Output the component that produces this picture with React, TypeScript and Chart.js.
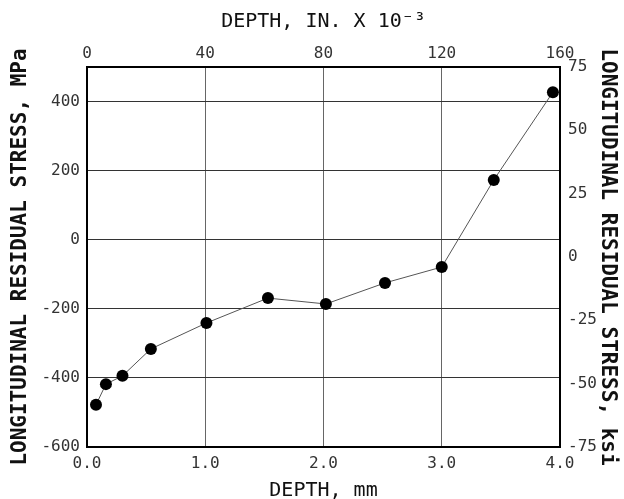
import React, { useEffect, useRef } from "react";
import { Chart, registerables } from "chart.js";

Chart.register(...registerables);

// Data
const depthMm = [0.076, 0.16, 0.3, 0.54, 1.01, 1.53, 2.02, 2.52, 3.0, 3.44, 3.94];
const stressMPa = [-478, -418, -394, -316, -241, -169, -186, -125, -79, 173, 427];

const bottomTicks = [0, 1, 2, 3, 4];
const topTickLabels = ["0", "40", "80", "120", "160"];
const leftTicks = [-600, -400, -200, 0, 200, 400];
const rightTicks = [-75, -50, -25, 0, 25, 50, 75];

const MONO = "'DejaVu Sans Mono', monospace";

export default function App() {
  const ref = useRef<HTMLCanvasElement | null>(null);

  useEffect(() => {
    if (!ref.current) return;
    const points = depthMm.map((x, i) => ({ x, y: stressMPa[i] }));
    const tickFont = { family: MONO, size: 16 };
    const titleFont = { family: MONO, size: 20, lineHeight: 1 };
    const sideTitleFont = { family: MONO, size: 21, lineHeight: 1, weight: "bold" };
    const border = { display: true, color: "#000", width: 2 };

    const chart = new Chart(ref.current, {
      type: "line",
      data: {
        datasets: [
          {
            data: points,
            borderColor: "#555",
            borderWidth: 1,
            pointRadius: 6,
            pointBackgroundColor: "#000",
            pointBorderColor: "#000",
            pointBorderWidth: 0,
            xAxisID: "x",
            yAxisID: "y",
            tension: 0,
          },
        ],
      },
      options: {
        responsive: false,
        animation: false,
        layout: { padding: 0 },
        plugins: { legend: { display: false }, tooltip: { enabled: false } },
        scales: {
          x: {
            type: "linear",
            position: "bottom",
            min: 0,
            max: 4,
            afterBuildTicks: (s: any) => {
              s.ticks = bottomTicks.map((v) => ({ value: v }));
            },
            afterFit: (s: any) => {
              s.height = 52;
            },
            ticks: {
              font: tickFont,
              color: "#333",
              padding: 7,
              maxRotation: 0,
              callback: (v: any) => Number(v).toFixed(1),
            },
            grid: {
              drawTicks: false,
              color: (c: any) =>
                c.tick && (c.tick.value === 0 || c.tick.value === 4) ? "rgba(0,0,0,0)" : "#666",
              lineWidth: 1,
            },
            border,
            title: {
              display: true,
              text: "DEPTH, mm",
              font: titleFont,
              color: "#111",
              padding: { top: 0, bottom: -2 },
            },
          },
          x2: {
            type: "linear",
            position: "top",
            min: 0,
            max: 4,
            afterBuildTicks: (s: any) => {
              s.ticks = bottomTicks.map((v) => ({ value: v }));
            },
            afterFit: (s: any) => {
              s.height = 67;
            },
            ticks: {
              font: tickFont,
              color: "#333",
              padding: 4,
              maxRotation: 0,
              callback: (_v: any, i: number) => topTickLabels[i],
            },
            grid: { display: false, drawTicks: false },
            border,
            title: {
              display: true,
              text: "DEPTH, IN. X 10\u207B\u00B3",
              font: titleFont,
              color: "#111",
              padding: { top: 12, bottom: 0 },
            },
          },
          y: {
            type: "linear",
            position: "left",
            min: -600,
            max: 500,
            afterBuildTicks: (s: any) => {
              s.ticks = leftTicks.map((v) => ({ value: v }));
            },
            afterFit: (s: any) => {
              s.width = 87;
            },
            ticks: { font: tickFont, color: "#333", padding: 7 },
            grid: {
              drawTicks: false,
              color: (c: any) => (c.tick && c.tick.value === -600 ? "rgba(0,0,0,0)" : "#333"),
              lineWidth: 1,
            },
            border,
            title: {
              display: true,
              text: "LONGITUDINAL RESIDUAL STRESS, MPa",
              font: sideTitleFont,
              color: "#111",
              padding: { top: 10, bottom: 0 },
            },
          },
          y2: {
            type: "linear",
            position: "right",
            min: -75,
            max: 75,
            afterBuildTicks: (s: any) => {
              s.ticks = rightTicks.map((v) => ({ value: v }));
            },
            afterFit: (s: any) => {
              s.width = 64;
            },
            ticks: { font: tickFont, color: "#333", padding: 8 },
            grid: { display: false, drawTicks: false },
            border,
            title: {
              display: true,
              text: "LONGITUDINAL RESIDUAL STRESS, ksi",
              font: sideTitleFont,
              color: "#111",
              padding: { top: 6, bottom: 0 },
            },
          },
        },
      },
    } as any);
    return () => chart.destroy();
  }, []);

  return (
    <div style={{ position: "absolute", left: 0, top: 0, width: 624, height: 499, background: "#fff" }}>
      <canvas ref={ref} width={624} height={499} />
    </div>
  );
}
